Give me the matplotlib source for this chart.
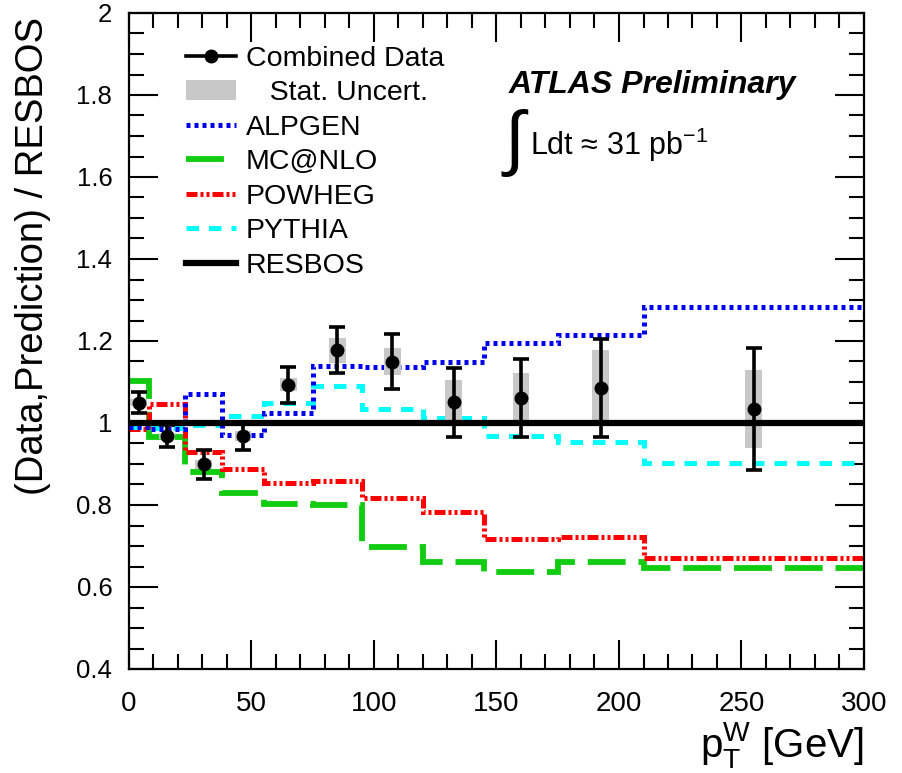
import numpy as np
import matplotlib
matplotlib.use("Agg")
import matplotlib.pyplot as plt
from matplotlib.lines import Line2D
from matplotlib.patches import Patch
from matplotlib.ticker import MultipleLocator

plt.rcParams['font.family'] = ['Liberation Sans', 'DejaVu Sans']
plt.rcParams['mathtext.fontset'] = 'custom'
plt.rcParams['mathtext.rm'] = 'Liberation Sans'
plt.rcParams['mathtext.it'] = 'Liberation Sans:italic'

# W pT bin edges [GeV]
bin_edges = [0, 8, 23, 38, 55, 75, 95, 120, 145, 175, 210, 300]

# Combined data / RESBOS with total and statistical uncertainties
data_ratio = [1.050, 0.968, 0.899, 0.968, 1.093, 1.177, 1.150, 1.051, 1.061, 1.085, 1.035]
data_err_tot = [0.025, 0.026, 0.035, 0.034, 0.043, 0.056, 0.067, 0.084, 0.095, 0.120, 0.149]
data_err_stat = [0.008, 0.008, 0.010, 0.012, 0.016, 0.030, 0.034, 0.053, 0.061, 0.093, 0.095]

# Prediction / RESBOS per bin
alpgen = [0.990, 0.985, 1.071, 0.970, 1.024, 1.139, 1.137, 1.149, 1.195, 1.215, 1.283]
mcatnlo = [1.102, 0.966, 0.880, 0.830, 0.802, 0.800, 0.698, 0.661, 0.637, 0.661, 0.646]
powheg = [0.985, 1.046, 0.930, 0.888, 0.853, 0.859, 0.818, 0.783, 0.717, 0.722, 0.670]
pythia = [0.990, 0.988, 0.995, 1.017, 1.049, 1.090, 1.034, 1.012, 0.968, 0.954, 0.903]
resbos = [1.0] * 11

edges = np.array(bin_edges, dtype=float)
centers = 0.5 * (edges[:-1] + edges[1:])

fig = plt.figure(figsize=(9.03, 7.73), dpi=100)
ax = fig.add_axes([129 / 903, 1 - 669 / 773, 735 / 903, 656 / 773])

alpgen_style = dict(color='#0000ee', lw=3.6, linestyle=(0, (0.8, 0.8)))
mcnlo_style = dict(color='#11cc11', lw=4.2, linestyle=(0, (6.5, 2.2)))
powheg_style = dict(color='#ff0000', lw=3.6, linestyle=(0, (2.2, 0.6, 0.6, 0.6, 0.6, 0.6)))
pythia_style = dict(color='#00ffff', lw=3.6, linestyle=(0, (2.5, 2.0)))
resbos_style = dict(color='black', lw=4.5, linestyle='-')

ax.stairs(mcatnlo, edges, baseline=None, zorder=2, **mcnlo_style)
ax.stairs(powheg, edges, baseline=None, zorder=2, **powheg_style)
ax.stairs(pythia, edges, baseline=None, zorder=2, **pythia_style)
ax.stairs(alpgen, edges, baseline=None, zorder=3, **alpgen_style)
ax.stairs(resbos, edges, baseline=None, zorder=4, **resbos_style)

# statistical uncertainty boxes
d = np.array(data_ratio)
s = np.array(data_err_stat)
ax.bar(centers, 2 * s, bottom=d - s, width=6.8, color='#c8c8c8', zorder=3.5, linewidth=0)

ax.errorbar(centers, data_ratio, yerr=data_err_tot, fmt='o', color='black',
            ms=9, elinewidth=2.6, capsize=6, capthick=2.6, zorder=5)

ax.set_xlim(0, 300)
ax.set_ylim(0.4, 2.0)
ax.xaxis.set_major_locator(MultipleLocator(50))
ax.xaxis.set_minor_locator(MultipleLocator(10))
ax.yaxis.set_major_locator(MultipleLocator(0.2))
ax.yaxis.set_minor_locator(MultipleLocator(0.05))
ax.tick_params(which='both', direction='in', top=True, right=True, width=1.5)
ax.tick_params(axis='y', which='both', pad=12, labelsize=18.5)
ax.tick_params(axis='x', which='both', pad=16, labelsize=20)
ax.tick_params(which='major', length=21)
ax.tick_params(which='minor', length=11)
for sp in ax.spines.values():
    sp.set_linewidth(1.6)

ax.set_yticks([0.4, 0.6, 0.8, 1.0, 1.2, 1.4, 1.6, 1.8, 2.0])
ax.set_yticklabels(['0.4', '0.6', '0.8', '1', '1.2', '1.4', '1.6', '1.8', '2'])

ax.set_ylabel('(Data,Prediction) / RESBOS', fontsize=27.5)
ax.yaxis.set_label_coords(-0.1555, 0.994, transform=ax.transAxes)
ax.yaxis.label.set_va('top')
ax.yaxis.label.set_ha('right')
ax.set_xlabel(r'$\mathregular{p_{T}^{W}}$ [GeV]', fontsize=29, loc='right', labelpad=2)

handles = [
    Line2D([], [], color='black', lw=2.6, marker='o', ms=9),
    Patch(facecolor='#c8c8c8', edgecolor='none'),
    Line2D([], [], **alpgen_style),
    Line2D([], [], **mcnlo_style),
    Line2D([], [], **powheg_style),
    Line2D([], [], **pythia_style),
    Line2D([], [], **resbos_style),
]
labels = ['Combined Data', '   Stat. Uncert.', 'ALPGEN', 'MC@NLO', 'POWHEG', 'PYTHIA', 'RESBOS']
ax.legend(handles, labels, loc='upper left', bbox_to_anchor=(0.058, 0.972),
          frameon=False, fontsize=20.5, handlelength=1.75, handletextpad=0.35,
          labelspacing=0.30, borderpad=0)

ax.text(0.516, 0.878, 'ATLAS Preliminary', transform=ax.transAxes, fontsize=23,
        fontweight='bold', fontstyle='italic', va='baseline')
ax.text(0.506, 0.857, r'$\int$', transform=ax.transAxes, fontsize=52, va='top')
ax.text(0.546, 0.7835, 'Ldt ≈ 31 pb$^{\\mathregular{-1}}$', transform=ax.transAxes,
        fontsize=22, va='baseline')

fig.savefig('out.png', dpi=100)
